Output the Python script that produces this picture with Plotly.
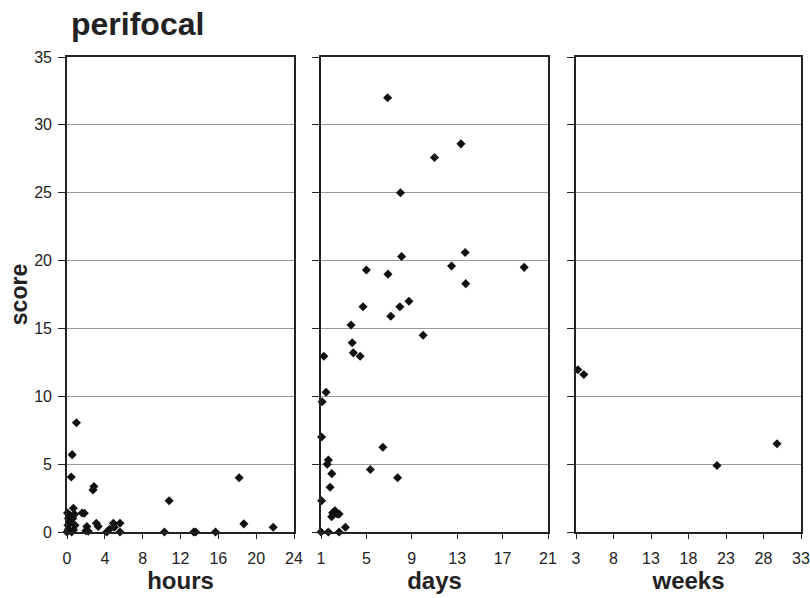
import plotly.graph_objects as go

title_text = "perifocal"
y_title = "score"

# Panel 1: hours
hours_x = [1.0, 0.55, 0.45, 2.75, 2.85, 10.8, 18.2, 18.7, 21.8, 10.3, 13.4, 13.6, 15.7,
           0.67, 0.05, 1.83, 0.15, 0.3, 0.85, 0.15, 0.7, 2.1, 2.25, 3.1, 3.3, 4.2, 4.5,
           4.9, 5.0, 5.6, 5.6, 0.4, 0.6, 0.1, 0.5, 0.0, 0.8, 2.0, 1.6]
hours_y = [8.05, 5.7, 4.05, 3.1, 3.35, 2.3, 4.0, 0.6, 0.35, 0.0, 0.0, 0.0, 0.0,
           1.75, 1.4, 1.38, 1.0, 0.65, 0.5, 0.2, 0.15, 0.4, 0.05, 0.64, 0.4, 0.0, 0.2,
           0.64, 0.35, 0.64, 0.0, 1.2, 1.0, 0.5, 0.0, 0.0, 1.3, 0.1, 1.4]

# Panel 2: days
days_x = [6.87, 13.33, 11.0, 8.0, 8.1, 13.7, 12.5, 18.9, 5.0, 6.9, 13.75, 4.7, 8.75,
          7.95, 7.15, 3.65, 10.0, 3.75, 3.85, 4.45, 1.25, 1.45, 1.1, 1.05, 6.45, 1.65,
          1.55, 5.35, 1.95, 7.75, 1.8, 1.05, 2.23, 2.44, 1.94, 2.03, 2.6, 3.15, 1.0,
          1.65, 2.6]
days_y = [32.0, 28.6, 27.6, 25.0, 20.3, 20.6, 19.6, 19.5, 19.3, 19.0, 18.3, 16.6, 17.0,
          16.6, 15.9, 15.25, 14.5, 13.95, 13.2, 12.95, 12.95, 10.3, 9.6, 7.0, 6.25, 5.3,
          5.0, 4.6, 4.3, 4.0, 3.3, 2.3, 1.57, 1.33, 1.13, 1.42, 1.33, 0.35, 0.0,
          0.0, 0.0]

# Panel 3: weeks
weeks_x = [3.25, 4.05, 21.8, 29.8]
weeks_y = [11.95, 11.6, 4.9, 6.5]

hours_ticks = [0, 4, 8, 12, 16, 20, 24]
days_ticks = [1, 5, 9, 13, 17, 21]
weeks_ticks = [3, 8, 13, 18, 23, 28, 33]
score_ticks = [0, 5, 10, 15, 20, 25, 30, 35]

W, H = 810, 598
ybot, ytop = 532, 57
ydom = [(H - ybot) / H, (H - ytop) / H]
xdoms = [[67 / W, 294 / W], [321 / W, 548 / W], [576 / W, 801 / W]]

FONT = "Liberation Sans, Arial, sans-serif"
marker = dict(symbol="diamond", size=7, color="#111111")

fig = go.Figure()
panels = [(hours_x, hours_y, "x", "y"), (days_x, days_y, "x2", "y2"), (weeks_x, weeks_y, "x3", "y3")]
for xs, ys, xa, ya in panels:
    fig.add_trace(go.Scatter(x=xs, y=ys, mode="markers", marker=marker, xaxis=xa, yaxis=ya,
                             cliponaxis=False, showlegend=False))

axis_common = dict(showline=True, linecolor="#222222", linewidth=1.6, mirror=True,
                   ticks="outside", tickcolor="#222222", ticklen=5, tickwidth=1,
                   zeroline=False, automargin=False,
                   tickfont=dict(family=FONT, size=16, color="#222222"))

xinfo = [(hours_ticks, "hours"), (days_ticks, "days"), (weeks_ticks, "weeks")]
layout = dict(width=W, height=H, margin=dict(l=0, r=0, t=0, b=0),
              plot_bgcolor="white", paper_bgcolor="white", showlegend=False)
for i, ((ticks, name), dom) in enumerate(zip(xinfo, xdoms)):
    sfx = "" if i == 0 else str(i + 1)
    layout["xaxis" + sfx] = dict(axis_common, domain=dom, range=[ticks[0], ticks[-1]],
                                 tickvals=ticks, showgrid=False, anchor="y" + sfx,
                                 ticklabelstandoff=6,
                                 title=dict(text="<b>" + name + "</b>", standoff=2,
                                            font=dict(family=FONT, size=24, color="#222222")))
    layout["yaxis" + sfx] = dict(axis_common, domain=ydom, range=[0, 35], tickvals=score_ticks,
                                 showgrid=True, gridcolor="#9a9a9a", gridwidth=1,
                                 showticklabels=(i == 0), anchor="x" + sfx, ticklen=7,
                                 ticklabelstandoff=3)
layout["yaxis"]["title"] = dict(text="<b>" + y_title + "</b>", standoff=0,
                                font=dict(family=FONT, size=23, color="#222222"))
fig.update_layout(**layout)

fig.add_annotation(text="<b>" + title_text + "</b>", xref="paper", yref="paper",
                   x=69 / W, y=1 - 4 / H, xanchor="left", yanchor="top", showarrow=False,
                   font=dict(family=FONT, size=32, color="#222222"))

fig.write_html("out.html", config={"displayModeBar": False},
               post_script="document.body.style.margin='0';document.body.style.overflow='hidden';")
